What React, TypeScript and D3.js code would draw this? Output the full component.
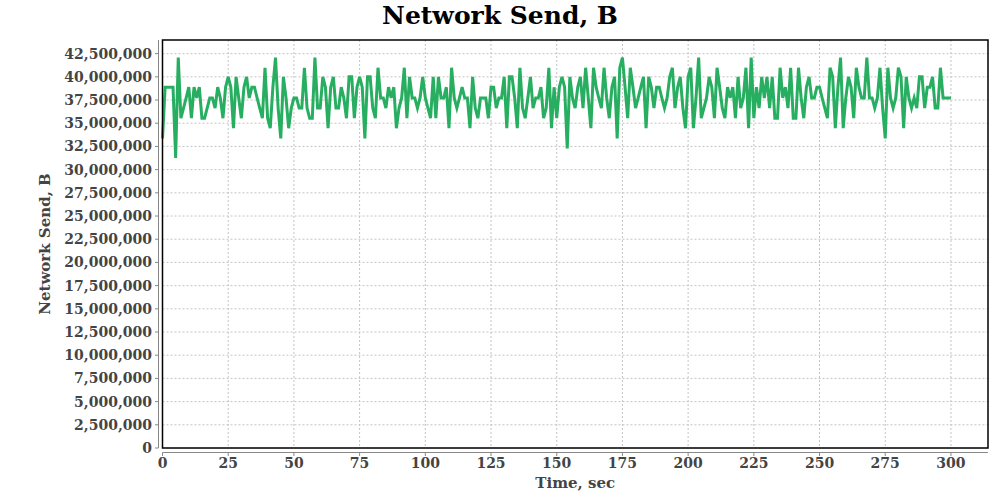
import React from "react";
import * as d3 from "d3";

const levels: Record<string, number> = {
  a: 31.27, b: 32.28, c: 33.37, d: 34.46, e: 35.54, f: 36.63,
  g: 37.72, h: 38.88, i: 40.0, j: 40.98, k: 42.07,
};
// one letter per second, t = 0..300, ten seconds per group
const sendCodes = [
  "chhhhakefg", "hehgheefgg", "fhgehihdig", "ehighhgfej", "edhkfcigdf",
  "ggffjfeekf", "fihdhiffhg", "eiiehihcii", "fejggfhghd", "fgjeiggfgi",
  "gfeieigghd", "jgfghggdif", "egggehhfgg", "idiigdjfeg", "ifgghefjdh",
  "ehihbigfhi", "fjgdjhgfjg", "ehicjkhejh", "fghidihfhh", "gfgijfhifd",
  "ijdgkefgih", "ejhfehghei", "fgjdkehfig", "ifieejghfj", "eejgehiggh",
  "hgfejidhkd", "gihejhggkg", "gfgjfcjgfg", "jidigfgfii", "fhhiffjggg",
  "g",
];
const seconds: number[] = [];
const sendValues: number[] = [];
sendCodes.join("").split("").forEach((ch, t) => {
  seconds.push(t);
  sendValues.push(levels[ch] * 1e6);
});

const yTicks = d3.range(0, 42500001, 2500000);
const xTicks = d3.range(0, 301, 25);

const W = 1000, H = 500;
const L = 162.5, R = 988, T = 40, B = 448;

export default function App() {
  const x = d3.scaleLinear().domain([0, 314.1]).range([L, R]);
  const y = d3.scaleLinear().domain([0, 43.97e6]).range([B, T]);
  const line = d3.line<number>().x((_, i) => x(seconds[i])).y((v) => y(v));
  const fmt = d3.format(",");
  const font = "'DejaVu Serif', serif";
  return (
    <svg width={W} height={H} style={{ position: "absolute", left: 0, top: 0, background: "#fff" }}
      fontFamily={font}>
      <rect x={0} y={0} width={W} height={H} fill="#fff" />
      <text x={500} y={24} textAnchor="middle" fontSize={25} fontWeight="bold" fill="#000">Network Send, B</text>
      {yTicks.map((v) => (
        <line key={"gy" + v} x1={L} x2={R} y1={y(v)} y2={y(v)} stroke="#c4c4c4" strokeDasharray="2,2" />
      ))}
      {xTicks.map((v) => (
        <line key={"gx" + v} x1={x(v)} x2={x(v)} y1={T} y2={B} stroke="#c4c4c4" strokeDasharray="2,2" />
      ))}
      <path d={line(sendValues) || ""} fill="none" stroke="#27ae60" strokeWidth={3} strokeLinejoin="miter" />
      <rect x={L} y={T} width={R - L} height={B - T} fill="none" stroke="#000" strokeWidth={1.5} />
      <line x1={158.5} x2={158.5} y1={T} y2={B} stroke="#888" />
      {yTicks.map((v) => (
        <g key={"ty" + v}>
          <line x1={155} x2={158.5} y1={y(v)} y2={y(v)} stroke="#888" />
          <text x={152} y={y(v)} dy="0.36em" textAnchor="end" fontSize={14} fontWeight="bold" fill="#444">{fmt(v)}</text>
        </g>
      ))}
      <line x1={L} x2={R} y1={452.5} y2={452.5} stroke="#888" />
      {xTicks.map((v) => (
        <g key={"tx" + v}>
          <line x1={x(v)} x2={x(v)} y1={452.5} y2={456} stroke="#888" />
          <text x={x(v)} y={463} dy="0.36em" textAnchor="middle" fontSize={14} fontWeight="bold" fill="#444">{v}</text>
        </g>
      ))}
      <text x={(L + R) / 2} y={488} textAnchor="middle" fontSize={15} fontWeight="bold" fill="#444">Time, sec</text>
      <text transform="translate(50,244) rotate(-90)" textAnchor="middle" fontSize={15} fontWeight="bold" fill="#444">Network Send, B</text>
    </svg>
  );
}
